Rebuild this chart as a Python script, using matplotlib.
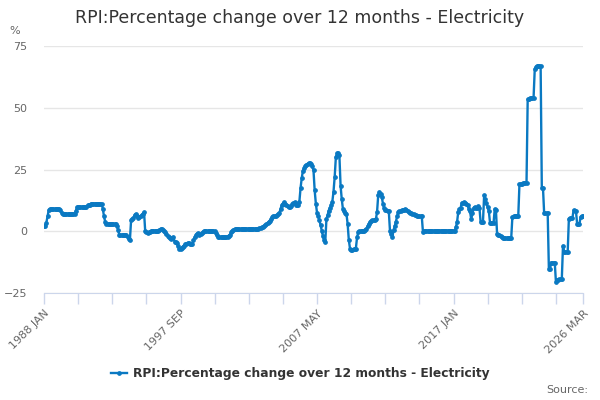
import matplotlib
matplotlib.use("Agg")
import matplotlib.pyplot as plt

# monthly values, 1988 JAN .. 2026 MAR
v1988 = [2, 2, 3.5, 6, 8.5, 9, 9, 9, 9, 9, 9, 9]
v1989 = [9, 9, 8.5, 7.5, 7, 7, 7, 7, 7, 7, 7, 7]
v1990 = [7, 7, 7, 8, 9.8, 9.8, 9.8, 9.8, 9.8, 9.8, 9.8, 9.8]
v1991 = [9.8, 10.5, 10.5, 10.5, 11.2, 11.2, 11.2, 11.2, 11.2, 11.2, 11.2, 11.2]
v1992 = [11.2, 11.2, 9, 6, 3.8, 2.8, 2.8, 2.8, 2.8, 2.8, 2.8, 2.8]
v1993 = [2.8, 2.8, 2, 0.7, -1.5, -1.5, -1.5, -1.5, -1.5, -1.5, -1.5, -2.3]
v1994 = [-3, -3.6, 4.5, 5, 5.5, 6.5, 7, 6, 5.5, 5.8, 6, 6.5]
v1995 = [7, 7.8, 0, -0.3, -0.6, -0.5, -0.3, 0, 0.3, 0.3, 0.2, 0.2]
v1996 = [0.1, 0.1, 0.5, 1, 1, 0.6, 0, -0.5, -1, -1.8, -2.3, -2.8]
v1997 = [-3, -2.6, -2.3, -4.3, -4.5, -4.7, -6, -7, -7, -6.6, -6.2, -5.8]
v1998 = [-5.3, -5, -4.7, -4.9, -5.1, -5.3, -5.3, -3.6, -2.5, -1.6, -1, -0.7]
v1999 = [-1.6, -1.3, -0.9, -0.3, 0.1, 0, 0, 0, 0, 0, 0, 0]
v2000 = [0, 0, -0.8, -1.6, -2.3, -2.5, -2.5, -2.5, -2.5, -2.5, -2.5, -2.5]
v2001 = [-2.2, -1.8, -1.6, -0.5, 0.3, 0.7, 0.8, 0.8, 0.8, 0.8, 0.8, 0.8]
v2002 = [0.9, 0.9, 0.9, 0.9, 0.9, 0.9, 0.9, 0.9, 1, 1, 1, 1]
v2003 = [1, 1, 1, 1.2, 1.4, 1.6, 1.8, 2.2, 2.5, 2.9, 3.3, 3.8]
v2004 = [4.2, 5, 5.8, 6.3, 6.3, 6.3, 6.5, 7, 7.3, 9.1, 10.5, 11.2]
v2005 = [11.8, 11.2, 10.5, 10.2, 10, 9.8, 10.3, 10.9, 11.5, 11.8, 10.8, 10.5]
v2006 = [10.5, 12, 17.5, 21.5, 24.5, 25.5, 26.5, 27, 27.3, 27.5, 27.5, 27.2]
v2007 = [26.5, 24.6, 16.5, 11.2, 7.5, 6.3, 4.5, 2.5, 0.3, -2, -3.5, -4.3]
v2008 = [5, 6.5, 8.4, 9.5, 10.5, 12, 16, 22, 30, 31.6, 31.5, 30.7]
v2009 = [18.5, 13, 9, 8, 7.2, 7, 3, -3.5, -7, -7.4, -7.4, -7.3]
v2010 = [-7.2, -7, -2.5, -0.5, 0.1, 0.1, 0.1, 0.1, 0.1, 0.6, 1.1, 2]
v2011 = [3, 3.8, 4.2, 4.5, 4.5, 4.7, 4.8, 7.8, 14.6, 15.9, 15, 13.9]
v2012 = [11.2, 9.5, 8.8, 8.5, 8.2, 8, 0, -1, -2.3, 0.4, 2, 3.8]
v2013 = [6, 7.8, 8, 8.3, 8.5, 8.6, 8.7, 9, 8.8, 8.3, 7.8, 7.5]
v2014 = [7.2, 7, 6.8, 6.6, 6.5, 6.3, 6.2, 6.1, 6, 6, -0.3, 0.1]
v2015 = [0.2, 0.2, 0.2, 0.2, 0.2, 0.2, 0.2, 0.2, 0.2, 0.2, 0.2, 0.2]
v2016 = [0.2, 0.2, 0.2, 0.2, 0.2, 0.2, 0.2, 0.2, 0.2, 0.2, 0.2, 0.2]
v2017 = [0.2, 0.2, 1.6, 3.8, 7.8, 9, 9.5, 11.5, 11.6, 11.8, 11.5, 11.2]
v2018 = [10.5, 9, 8, 4.9, 7.2, 9.4, 9.8, 9.5, 9.5, 10.2, 9.5, 3.8]
v2019 = [3.8, 3.8, 14.6, 13, 11.5, 9.9, 8.1, 3.4, 3.4, 3.4, 3.4, 9]
v2020 = [8.8, -1.2, -1.6, -1.6, -2, -2.3, -2.6, -2.8, -2.8, -2.8, -2.8, -2.8]
v2021 = [-2.8, -2.8, 5.8, 6, 6.1, 6.2, 6.3, 6.3, 19, 19.3, 19.3, 19.4]
v2022 = [19.5, 19.6, 19.6, 53.4, 53.6, 53.8, 53.9, 54, 54.1, 65.6, 66.5, 66.9]
v2023 = [67, 67, 67, 17.5, 17.5, 7.2, 7.2, 7.2, 7.2, -15.1, -15.1, -12.7]
v2024 = [-12.7, -12.7, -12.7, -20.5, -19.7, -19.6, -19.5, -19.3, -19.2, -5.9, -8.3, -8.3]
v2025 = [-8.3, -8.3, 5.1, 5.2, 5.3, 5.4, 8.5, 8.4, 8.3, 3.1, 3.1, 3.1]
v2026 = [5.8, 6, 6.2]

years = list(range(1988, 2027))
months = ["JAN", "FEB", "MAR", "APR", "MAY", "JUN",
          "JUL", "AUG", "SEP", "OCT", "NOV", "DEC"]
shown_labels = ["1988 JAN", "1997 SEP", "2007 MAY", "2017 JAN", "2026 MAR"]

title = "RPI:Percentage change over 12 months - Electricity"
series_name = "RPI:Percentage change over 12 months - Electricity"

values = []
for y in years:
    values += globals()["v%d" % y]
dates = ["%d %s" % (y, m) for y in years for m in months][:len(values)]
xs = list(range(len(values)))

blue = "#0a79c2"
plt.rcParams["font.family"] = ["DejaVu Sans"]

fig = plt.figure(figsize=(6, 4), dpi=100)
ax = fig.add_axes([44 / 600, 107 / 400, 539 / 600, 247 / 400])

ax.plot(xs, values, color=blue, lw=1.7, marker="o", ms=2.4, label=series_name)

ax.set_xlim(0, len(values) - 1)
ax.set_ylim(-25, 75)
ax.set_yticks([-25, 0, 25, 50, 75])
ax.grid(axis="y", color="#e6e6e6", lw=1)
ax.set_axisbelow(True)
ax.tick_params(axis="y", length=0, pad=12, labelsize=8, labelcolor="#666666")

ticks = list(range(0, len(values), 29)) + [len(values) - 1]
ax.set_xticks(ticks)
ax.set_xticklabels([dates[t] if dates[t] in shown_labels else "" for t in ticks],
                   rotation=45, ha="right", rotation_mode="anchor")
ax.tick_params(axis="x", length=8, width=1, color="#ccd6eb", pad=3,
               labelsize=8, labelcolor="#666666")

for s in ["left", "top", "right"]:
    ax.spines[s].set_visible(False)
ax.spines["bottom"].set_color("#ccd6eb")

fig.text(0.5, 1 - 18 / 400, title, ha="center", va="center",
         fontsize=12.5, color="#333333")
fig.text(14.5 / 600, 1 - 31.5 / 400, "%", ha="center", va="center",
         fontsize=8, color="#666666")
fig.text(588 / 600, 1 - 390 / 400, "Source:", ha="right", va="center",
         fontsize=8, color="#666666")

leg = ax.legend(loc="center", bbox_to_anchor=(0.5, 1 - 374 / 400),
                bbox_transform=fig.transFigure, frameon=False,
                handlelength=1.3, handletextpad=0.5,
                prop={"weight": "bold", "size": 8.8})
for t in leg.get_texts():
    t.set_color("#333333")

fig.savefig("out.png", dpi=100)
plt.close(fig)
